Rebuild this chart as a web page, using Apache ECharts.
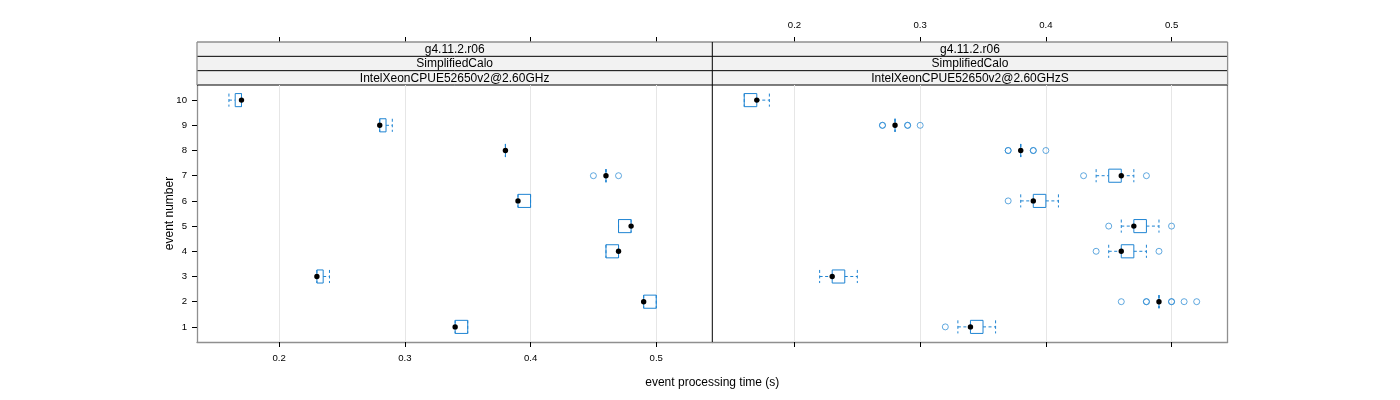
<!DOCTYPE html>
<html><head><meta charset="utf-8">
<script src="https://cdn.jsdelivr.net/npm/echarts@6/dist/echarts.min.js"></script>
<style>html,body{margin:0;padding:0;background:#fff}#c{width:1400px;height:400px}</style>
</head><body><div id="c"></div>
<script>
// ---------------- data ----------------
const events = [1, 2, 3, 4, 5, 6, 7, 8, 9, 10];
const xTicks = [0.2, 0.3, 0.4, 0.5];
const stripTop = 'g4.11.2.r06';
const stripMid = 'SimplifiedCalo';
const panelNames = ['IntelXeonCPUE52650v2@2.60GHz', 'IntelXeonCPUE52650v2@2.60GHzS'];
// per event 1..10: [lower whisker, Q1, median, Q3, upper whisker]
const statsA = [
  [0.34, 0.34, 0.34, 0.35, 0.35],
  [0.49, 0.49, 0.49, 0.50, 0.50],
  [0.23, 0.23, 0.23, 0.235, 0.24],
  [0.46, 0.46, 0.47, 0.47, 0.47],
  [0.47, 0.47, 0.48, 0.48, 0.48],
  [0.39, 0.39, 0.39, 0.40, 0.40],
  [0.46, 0.46, 0.46, 0.46, 0.46],
  [0.38, 0.38, 0.38, 0.38, 0.38],
  [0.28, 0.28, 0.28, 0.285, 0.29],
  [0.16, 0.165, 0.17, 0.17, 0.17]
];
const statsB = [
  [0.33, 0.34, 0.34, 0.35, 0.36],
  [0.49, 0.49, 0.49, 0.49, 0.49],
  [0.22, 0.23, 0.23, 0.24, 0.25],
  [0.45, 0.46, 0.46, 0.47, 0.48],
  [0.46, 0.47, 0.47, 0.48, 0.49],
  [0.38, 0.39, 0.39, 0.40, 0.41],
  [0.44, 0.45, 0.46, 0.46, 0.47],
  [0.38, 0.38, 0.38, 0.38, 0.38],
  [0.28, 0.28, 0.28, 0.28, 0.28],
  [0.16, 0.16, 0.17, 0.17, 0.18]
];
// [event, value]
const outliersA = [[7, 0.45], [7, 0.47]];
const outliersB = [
  [1, 0.32],
  [2, 0.46], [2, 0.48], [2, 0.48], [2, 0.50], [2, 0.50], [2, 0.51], [2, 0.52],
  [4, 0.44], [4, 0.49],
  [5, 0.45], [5, 0.50],
  [6, 0.37],
  [7, 0.43], [7, 0.48],
  [8, 0.37], [8, 0.37], [8, 0.39], [8, 0.39], [8, 0.40],
  [9, 0.27], [9, 0.27], [9, 0.29], [9, 0.29], [9, 0.30]
];
const xMin = 0.1346, xMax = 0.5446;
const yMin = 0.4, yMax = 10.6;

// ---------------- layout ----------------
const FONT = 'Liberation Sans, Arial, Helvetica, sans-serif';
const BLUE = '#1f84d2';
const FRAME = '#8f8f8f';
const L = 197, PW = 515.3, PT = 85, PH = 257;
const ST = 42, SH = (PT - ST) / 3;
const TICKFONT = 9.6;

const chart = echarts.init(document.getElementById('c'), null, {renderer: 'canvas'});

function boxItem(params, api) {
  const ev = api.value(0);
  const p = [1, 2, 3, 4, 5].map(i => api.coord([api.value(i), ev])[0]);
  const yc = api.coord([api.value(1), ev])[1];
  const h = api.size([0, 1])[1] * 0.26;
  const dash = {stroke: BLUE, lineWidth: 1, lineDash: [3, 2.5], fill: null};
  const solid = {stroke: BLUE, lineWidth: 1, fill: null};
  const ln = (x1, y1, x2, y2, style) => ({type: 'line', shape: {x1, y1, x2, y2}, style});
  const ch = [];
  if (p[1] - p[0] > 0.5) ch.push(ln(p[0], yc, p[1], yc, dash));
  if (p[4] - p[3] > 0.5) ch.push(ln(p[3], yc, p[4], yc, dash));
  ch.push(ln(p[0], yc - h, p[0], yc + h, dash));
  ch.push(ln(p[4], yc - h, p[4], yc + h, dash));
  if (p[3] - p[1] < 0.5) ch.push(ln(p[1], yc - h, p[1], yc + h, solid));
  else ch.push({type: 'rect', shape: {x: p[1], y: yc - h, width: p[3] - p[1], height: 2 * h}, style: solid});
  ch.push({type: 'circle', shape: {cx: p[2], cy: yc, r: 2.7}, style: {fill: '#000'}});
  return {type: 'group', children: ch};
}

function xAxisDef(gridIndex, position, showLabels, showLine, offset) {
  return {
    type: 'value', gridIndex, position, offset: offset || 0, min: xMin, max: xMax,
    axisLine: {show: showLine, lineStyle: {color: FRAME, width: 1.3}},
    axisTick: {show: true, length: 5, customValues: xTicks, lineStyle: {color: '#000'}},
    axisLabel: {show: showLabels, customValues: xTicks, fontFamily: FONT, fontSize: TICKFONT, color: '#000',
      margin: position === 'top' ? 12 : 11,
      formatter: v => String(+v.toFixed(2))},
    splitLine: {show: false}
  };
}

const gridLines = {
  silent: true, symbol: 'none', animation: false,
  lineStyle: {color: '#e6e6e6', width: 1, type: 'solid'},
  label: {show: false},
  data: xTicks.map(v => ({xAxis: v}))
};

// strips (layout decoration)
const graphics = [];
[0, 1].forEach(k => {
  const x0 = L + k * PW;
  const texts = [stripTop, stripMid, panelNames[k]];
  texts.forEach((t, j) => {
    graphics.push({type: 'rect', shape: {x: x0, y: ST + j * SH, width: PW, height: SH}, style: {fill: '#f2f2f2'}, z: 1});
    graphics.push({type: 'text', x: x0 + PW / 2, y: ST + j * SH + SH / 2 + 0.5,
      style: {text: t, fontFamily: FONT, fontSize: 12, fill: '#000', align: 'center', verticalAlign: 'middle'}, z: 2});
  });
});
[1, 2, 3].forEach(j => {
  graphics.push({type: 'line', shape: {x1: L, y1: ST + j * SH, x2: L + 2 * PW, y2: ST + j * SH}, style: {stroke: '#000', lineWidth: 1}, z: 3});
});
graphics.push({type: 'line', shape: {x1: L, y1: ST, x2: L + 2 * PW, y2: ST}, style: {stroke: FRAME, lineWidth: 1.3}, z: 3});
graphics.push({type: 'line', shape: {x1: L, y1: ST, x2: L, y2: PT}, style: {stroke: FRAME, lineWidth: 1.3}, z: 3});
graphics.push({type: 'line', shape: {x1: L + 2 * PW, y1: ST, x2: L + 2 * PW, y2: PT}, style: {stroke: FRAME, lineWidth: 1.3}, z: 3});
graphics.push({type: 'line', shape: {x1: L + PW, y1: ST, x2: L + PW, y2: PT + PH}, style: {stroke: '#000', lineWidth: 1}, z: 3});
graphics.push({type: 'text', x: L + PW, y: 383,
  style: {text: 'event processing time (s)', fontFamily: FONT, fontSize: 12, fill: '#000', align: 'center', verticalAlign: 'middle'}});

const option = {
  animation: false,
  backgroundColor: '#fff',
  grid: [
    {left: L, top: PT, width: PW, height: PH, show: false},
    {left: L + PW, top: PT, width: PW, height: PH, show: false}
  ],
  xAxis: [
    xAxisDef(0, 'bottom', true, true),
    xAxisDef(0, 'top', false, false, PT - ST),
    xAxisDef(1, 'top', true, false, PT - ST),
    xAxisDef(1, 'bottom', false, true)
  ],
  yAxis: [
    {type: 'value', gridIndex: 0, position: 'left', min: yMin, max: yMax,
      axisLine: {show: true, lineStyle: {color: FRAME, width: 1.3}},
      axisTick: {show: true, length: 5, customValues: events, lineStyle: {color: '#000'}},
      axisLabel: {show: true, customValues: events, fontFamily: FONT, fontSize: TICKFONT, color: '#000', margin: 10},
      splitLine: {show: false},
      name: 'event number', nameLocation: 'middle', nameGap: 21, nameRotate: 90, nameMoveOverlap: false,
      nameTextStyle: {fontFamily: FONT, fontSize: 12, color: '#000'}},
    {type: 'value', gridIndex: 1, position: 'right', min: yMin, max: yMax,
      axisLine: {show: true, lineStyle: {color: FRAME, width: 1.3}},
      axisTick: {show: false}, axisLabel: {show: false}, splitLine: {show: false}}
  ],
  graphic: graphics,
  series: [
    {type: 'custom', name: panelNames[0], xAxisIndex: 0, yAxisIndex: 0, renderItem: boxItem,
      encode: {x: [1, 2, 3, 4, 5], y: 0}, z: 5,
      data: statsA.map((s, i) => [events[i]].concat(s)), markLine: gridLines},
    {type: 'custom', name: panelNames[1], xAxisIndex: 2, yAxisIndex: 1, renderItem: boxItem,
      encode: {x: [1, 2, 3, 4, 5], y: 0}, z: 5,
      data: statsB.map((s, i) => [events[i]].concat(s)), markLine: gridLines},
    {type: 'scatter', xAxisIndex: 0, yAxisIndex: 0, symbol: 'circle', symbolSize: 6, z: 6,
      itemStyle: {color: 'rgba(0,0,0,0)', borderColor: BLUE, borderWidth: 1, opacity: 0.7},
      data: outliersA.map(o => [o[1], o[0]])},
    {type: 'scatter', xAxisIndex: 2, yAxisIndex: 1, symbol: 'circle', symbolSize: 6, z: 6,
      itemStyle: {color: 'rgba(0,0,0,0)', borderColor: BLUE, borderWidth: 1, opacity: 0.7},
      data: outliersB.map(o => [o[1], o[0]])}
  ]
};
chart.setOption(option);
</script></body></html>
